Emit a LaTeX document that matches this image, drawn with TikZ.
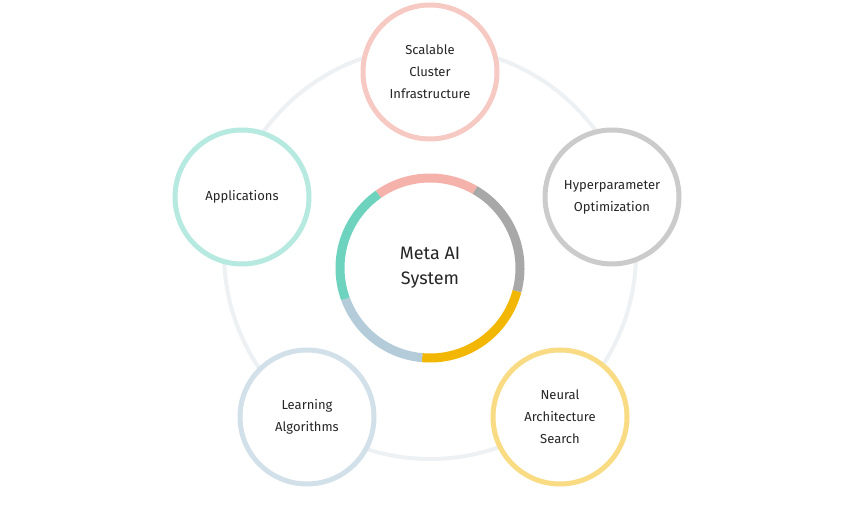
\documentclass[tikz,border=0pt]{standalone}
\usepackage{fontspec}
\setmainfont{Fira Sans}
\usepackage{xcolor}
\definecolor{colorPink}{HTML}{F4B2AA}
\definecolor{colorGray}{HTML}{A8A8A8}
\definecolor{colorYellow}{HTML}{F2B705}
\definecolor{colorBlue}{HTML}{B4CCDA}
\definecolor{colorTeal}{HTML}{6DD3BF}
\definecolor{colorOrbit}{HTML}{EDF1F4}
\usetikzlibrary{positioning}
\tikzset{outer/.style={circle, draw, line width=5pt, minimum size=134pt, align=center, font=\fontsize{13}{22}\selectfont, text=black!85}}

\begin{document}
\begin{tikzpicture}[x=1pt, y=1pt]
\useasboundingbox (0,0) rectangle (860,509);
\coordinate (o) at (430,256);
\draw[colorOrbit, line width=4pt] (o) circle (206);
\node[circle, fill=white, minimum size=172pt, align=center, font=\fontsize{18}{25}\selectfont, text=black!85] (sys) at (430,241) {Meta AI\\System};
\draw[colorPink, line width=9pt] ([shift={(60:90)}]sys.center) arc (60:125:90);
\draw[colorGray, line width=9pt] ([shift={(-15:90)}]sys.center) arc (-15:60:90);
\draw[colorYellow, line width=9pt] ([shift={(-95:90)}]sys.center) arc (-95:-15:90);
\draw[colorBlue, line width=9pt] ([shift={(200:90)}]sys.center) arc (200:265:90);
\draw[colorTeal, line width=9pt] ([shift={(125:90)}]sys.center) arc (125:200:90);
% outer nodes
\node[outer, draw=colorPink!70, fill=white] (scal) at (430,437) {Scalable\\Cluster\\Infrastructure};
\node[outer, draw=colorGray!60, fill=white] (hyper) at (612,312) {Hyperparameter\\Optimization};
\node[outer, draw=colorYellow!50, fill=white] (nas) at (560,92) {Neural\\Architecture\\Search};
\node[outer, draw=colorBlue!60, fill=white] (learn) at (307,92) {Learning\\Algorithms};
\node[outer, draw=colorTeal!50, fill=white] (app) at (242,312) {Applications};
\end{tikzpicture}
\end{document}
